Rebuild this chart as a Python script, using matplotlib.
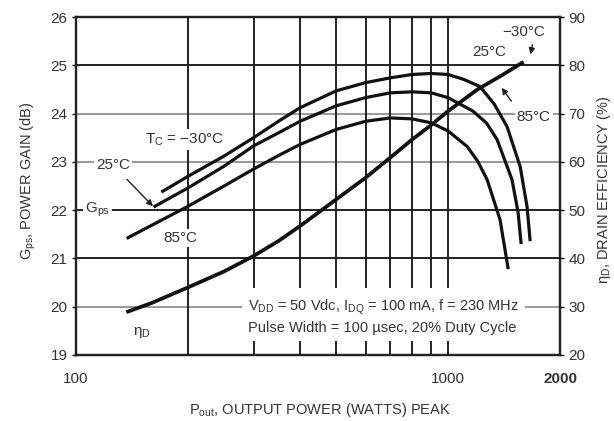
#%%
import matplotlib
matplotlib.use('Agg')
import matplotlib.pyplot as plt

#%%
# values
pout_m30 = [171, 200, 250, 300, 350, 400, 500, 600, 700, 800, 900, 1000, 1100, 1219, 1330, 1441, 1563, 1631, 1661]
gain_m30 = [22.39, 22.70, 23.12, 23.50, 23.84, 24.12, 24.47, 24.64, 24.74, 24.81, 24.83, 24.81, 24.71, 24.56, 24.20, 23.73, 22.90, 22.07, 21.39]

pout_25 = [163, 200, 250, 300, 350, 400, 500, 600, 700, 800, 900, 1000, 1167, 1270, 1355, 1486, 1543, 1571]
gain_25 = [22.08, 22.46, 22.91, 23.33, 23.60, 23.84, 24.16, 24.33, 24.43, 24.45, 24.43, 24.33, 24.05, 23.80, 23.46, 22.63, 21.95, 21.33]

pout_85 = [138, 200, 250, 300, 350, 400, 500, 600, 700, 800, 900, 1000, 1125, 1200, 1274, 1380, 1449]
gain_85 = [21.43, 22.08, 22.50, 22.85, 23.13, 23.36, 23.67, 23.84, 23.91, 23.89, 23.81, 23.64, 23.32, 23.02, 22.63, 21.80, 20.81]

pout_eff = [138, 160, 200, 250, 300, 350, 400, 500, 600, 700, 800, 900, 1000, 1200, 1400, 1580]
eff = [29.0, 30.8, 34.0, 37.3, 40.5, 43.6, 46.7, 52.2, 56.7, 60.9, 64.6, 67.6, 70.5, 75.0, 78.0, 80.5]

gain_ticks = [19, 20, 21, 22, 23, 24, 25, 26]
eff_ticks = [20, 30, 40, 50, 60, 70, 80, 90]
x_ticks = [100, 1000, 2000]
x_grid = [200, 300, 400, 500, 600, 700, 800, 900]

#%%
plt.rcParams['font.family'] = ['Liberation Sans', 'DejaVu Sans']
plt.rcParams['mathtext.default'] = 'regular'
txt = '#333333'

fig = plt.figure(figsize=(6.14, 4.21), dpi=100)
ax = fig.add_axes([0.1238, 0.1568, 0.7883, 0.8028])
ax.set_xscale('log')
ax.set_xlim(100, 2000)
ax.set_ylim(19, 26)

# grid: dark lines, a few lighter ones like the scan
for g in gain_ticks[1:-1]:
    c = '#999999' if g in (20, 23, 24) else '#222222'
    ax.axhline(g, color=c, lw=1.4, zorder=0)
for xg in x_grid + [1000]:
    ax.axvline(xg, color='#222222', lw=1.4, zorder=0)

ax.plot(pout_m30, gain_m30, color='#111111', lw=2.3, zorder=3)
ax.plot(pout_25, gain_25, color='#111111', lw=2.3, zorder=3)
ax.plot(pout_85, gain_85, color='#111111', lw=2.3, zorder=3)

ax.set_xticks(x_ticks)
ax.set_xticklabels(['100', '1000', '2000'])
ax.get_xticklabels()[2].set_fontweight('bold')
ax.minorticks_off()
ax.set_yticks(gain_ticks)
ax.tick_params(axis='x', length=0, pad=12, labelsize=11, labelcolor=txt)
ax.tick_params(axis='y', length=3, width=1, pad=3, labelsize=11, labelcolor=txt)
for s in ax.spines.values():
    s.set_linewidth(1.6)
    s.set_color('#222222')

ax2 = ax.twinx()
ax2.set_ylim(20, 90)
ax2.set_yticks(eff_ticks)
ax2.tick_params(axis='y', length=3, width=1, pad=3, labelsize=11, labelcolor=txt)
ax2.plot(pout_eff, eff, color='#111111', lw=2.7, zorder=3)
for s in ax2.spines.values():
    s.set_linewidth(1.6)
    s.set_color('#222222')

#%%
# labels on the curves
wb = dict(facecolor='white', edgecolor='none', pad=1.5)
fs = 11
ax.text(153, 23.46, 'T$_C$ = \u221230\u00b0C', fontsize=fs, color=txt, va='center', bbox=wb, zorder=2)
ax.annotate('25\u00b0C', xy=(161, 22.08), xytext=(126, 22.93), fontsize=fs, color=txt,
            ha='center', va='center', bbox=wb, zorder=2,
            arrowprops=dict(arrowstyle='-|>', color='#222222', lw=1, shrinkA=5, shrinkB=0,
                            mutation_scale=9))
ax.text(114, 22.0, 'G$_{ps}$', fontsize=fs, color=txt, ha='center', va='center', bbox=wb, zorder=2)
ax.text(191, 21.43, '85\u00b0C', fontsize=fs, color=txt, ha='center', va='center', bbox=wb, zorder=2)
ax.text(150, 19.46, '\u03b7$_D$', fontsize=fs, color=txt, ha='center', va='center', zorder=2)

ax.text(1600, 25.68, '\u221230\u00b0C', fontsize=fs, color=txt, ha='center', va='center', zorder=2)
ax.text(1290, 25.27, '25\u00b0C', fontsize=fs, color=txt, ha='center', va='center', zorder=2)
ax.text(1700, 23.92, '85\u00b0C', fontsize=fs, color=txt, ha='center', va='center', bbox=wb, zorder=2)
ax.annotate('', xy=(1380, 24.58), xytext=(1495, 24.21),
            arrowprops=dict(arrowstyle='-|>', color='#222222', lw=1, mutation_scale=9))
ax.annotate('', xy=(1661, 25.17), xytext=(1692, 25.48),
            arrowprops=dict(arrowstyle='-|>', color='#222222', lw=1, mutation_scale=9))

ax.text(290, 19.80, 'V$_{DD}$ = 50 Vdc, I$_{DQ}$ = 100 mA, f = 230 MHz\nPulse Width = 100 \u00b5sec, 20% Duty Cycle',
        fontsize=10.5, color=txt, va='center', linespacing=1.45,
        bbox=dict(facecolor='white', edgecolor='none', pad=4), zorder=2)

fig.text(0.521, 0.026, 'P$_{out}$, OUTPUT POWER (WATTS) PEAK', fontsize=10.5, color=txt, ha='center', va='center')
fig.text(0.046, 0.57, 'G$_{ps}$, POWER GAIN (dB)', fontsize=10.5, color=txt, rotation=90, ha='center', va='center')
fig.text(0.984, 0.55, '\u03b7$_D$, DRAIN EFFICIENCY (%)', fontsize=10.5, color=txt, rotation=90, ha='center', va='center')

fig.savefig('out.png', dpi=100)
